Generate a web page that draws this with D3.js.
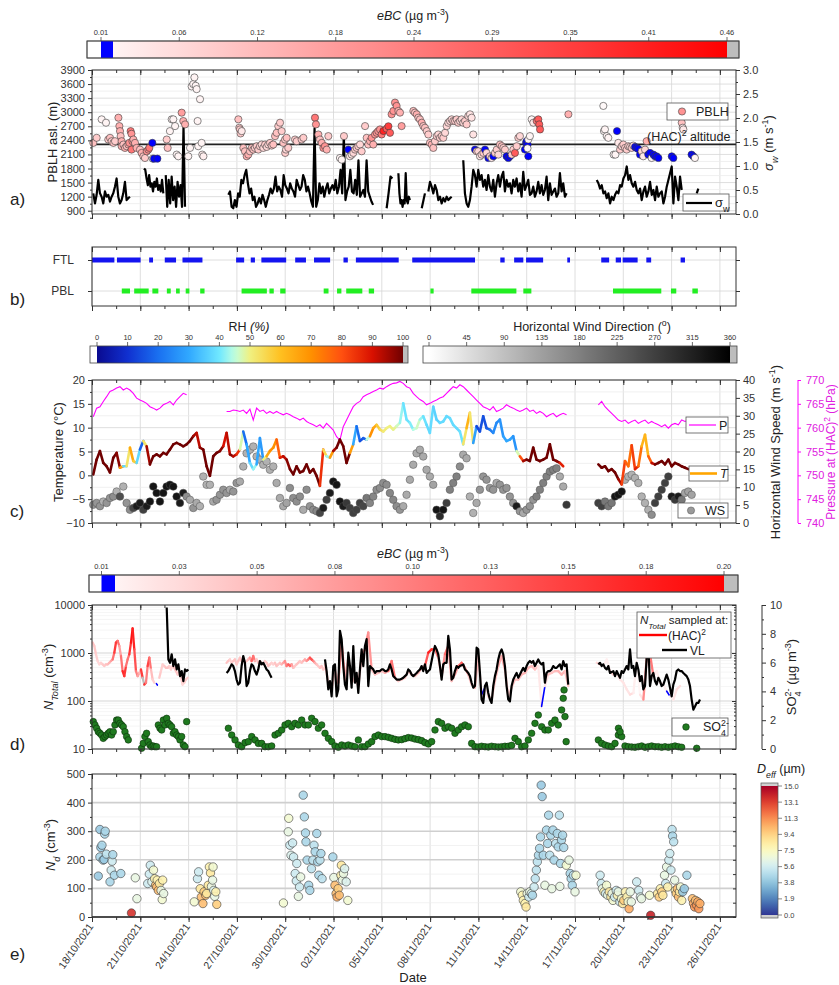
<!DOCTYPE html>
<html>
<head>
<meta charset="utf-8">
<script src="https://cdn.jsdelivr.net/npm/d3@7"></script>
<style>
  body { margin: 0; background: #fff; }
  svg { font-family: "Liberation Sans", Arial, sans-serif; }
</style>
</head>
<body>
<svg id="chart" width="839" height="985"></svg>
<script>
// ---------------- data (days counted from 18/10/2021 00:00 UTC) ----------------
var dateTickDays = [0, 3, 6, 9, 12, 15, 18, 21, 24, 27, 30, 33, 36, 39];
var minorTickDays = d3.range(0, 40.1, 1.5);

// colour-bar tick labels
var ebcTopLabels = ["0.01", "0.06", "0.12", "0.18", "0.24", "0.29", "0.35", "0.41", "0.46"];
var ebcLowLabels = ["0.01", "0.03", "0.05", "0.08", "0.10", "0.13", "0.15", "0.18", "0.20"];
var rhLabels = [0, 10, 20, 30, 40, 50, 60, 70, 80, 90, 100];
var wdLabels = [0, 45, 90, 135, 180, 225, 270, 315, 360];
var deffLabels = ["0.0", "1.9", "3.8", "5.6", "7.5", "9.4", "11.3", "13.1", "15.0"];

// axis ticks
var pblhTicks = [900, 1200, 1500, 1800, 2100, 2400, 2700, 3000, 3300, 3600, 3900];
var sigmaTicks = [0, 0.5, 1, 1.5, 2, 2.5, 3];
var tempTicks = [-10, -5, 0, 5, 10, 15, 20];
var wsTicks = [0, 5, 10, 15, 20, 25, 30, 35, 40];
var presTicks = [740, 745, 750, 755, 760, 765, 770];
var ntotTicks = [10, 100, 1000, 10000];
var so4Ticks = [0, 2, 4, 6, 8, 10];
var ndTicks = [0, 100, 200, 300, 400, 500];
var hacAltitude = 2314;

// panel a: PBLH [day, m asl, eBC]
var pblh = [
 [0.08,2346,0.12],[0.29,2454,0.1],[0.60,2848,0.03],[0.87,2776,0.03],[1.01,2418,0.1],[1.12,2454,0.12],[1.22,2382,0.1],[1.33,2346,0.12],[1.43,2382,0.1],[1.64,2883,0.15],[1.70,2704,0.15],[1.74,2597,0.15],[1.78,2490,0.12],[1.84,2382,0.15],[1.84,2275,0.15],[1.95,2311,0.12],[2.05,2239,0.15],[2.15,2275,0.12],[2.26,2311,0.15],[2.32,2346,0.2],[2.40,2597,0.25],[2.45,2540,0.2],[2.46,2203,0.25],[2.51,2382,0.2],[2.57,2418,0.15],[2.67,2346,0.15],[2.77,2239,0.15],[2.98,2203,0.12],[3.08,2132,0.15],[3.19,2060,0.12],[3.29,2024,0.1],[3.40,2167,0.2],[3.50,2203,0.2],[3.56,2239,0.25],[3.75,2346,0.005],[3.77,2010,0.02],[3.85,2010,0.005],[4.06,2010,0.005],
 [4.64,2418,0.1],[4.70,2239,0.12],[4.84,2597,0.03],[4.95,2848,0.03],[5.05,2848,0.03],[5.16,2704,0.03],[5.26,2096,0.03],[5.36,2060,0.03],[5.57,2990,0.18],[5.67,2812,0.15],[5.78,2740,0.15],[5.98,2060,0.03],[6.09,2239,0.03],[6.19,3549,0.03],[6.29,3599,0.03],[6.36,3742,0.03],[6.44,3564,0.03],[6.50,3492,0.03],[6.56,2812,0.03],[6.60,2275,0.03],[6.71,3277,0.03],[6.81,2346,0.03],[6.85,2096,0.04],[6.92,2060,0.04],
 [9.09,2848,0.12],[9.15,2669,0.1],[9.19,2633,0.1],[9.23,2547,0.1],[9.30,2597,0.05],[9.40,2239,0.12],[9.50,2167,0.12],[9.61,2060,0.15],[9.71,2096,0.15],[9.81,2167,0.12],[9.92,2239,0.12],[10.02,2203,0.12],[10.12,2239,0.1],[10.23,2275,0.1],[10.33,2203,0.1],[10.43,2275,0.1],[10.54,2311,0.08],[10.64,2239,0.08],[10.75,2311,0.1],[10.85,2260,0.08],[10.95,2311,0.08],[11.06,2346,0.1],[11.16,2289,0.1],[11.26,2311,0.12],[11.37,2490,0.12],[11.47,2561,0.12],[11.57,2704,0.1],[11.68,2776,0.1],[11.78,2597,0.1],[11.88,2346,0.12],[11.99,2418,0.1],[12.0,2132,0.1],[12.05,2203,0.08],[12.09,2454,0.12],[12.19,2239,0.1],[12.61,2418,0.1],[12.71,2382,0.1],[13.02,2418,0.1],[13.13,2454,0.1],
 [13.85,2883,0.25],[13.91,2740,0.2],[14.06,2525,0.15],[14.16,2418,0.12],[14.27,2346,0.15],[14.37,2239,0.2],[14.47,2275,0.2],[14.58,2203,0.15],[14.68,2490,0.1],[15.40,2024,0.03],[15.51,1988,0.03],[15.65,2490,0.1],[15.92,2203,0.005],[16.02,2060,0.05],[16.13,2096,0.05],[16.23,2132,0.08],[16.34,2203,0.1],[16.44,2239,0.1],[16.54,2275,0.1],[16.65,2311,0.08],[16.75,2167,0.1],[16.96,2704,0.1],[17.06,2454,0.12],[17.16,2311,0.12],[17.27,2382,0.15],[17.37,2454,0.2],[17.47,2311,0.15],[17.58,2525,0.2],[17.68,2561,0.2],[17.78,2597,0.2],[17.89,2633,0.2],[17.99,2525,0.25],[18.10,2600,0.4],[18.30,2650,0.3],[18.41,2700,0.35],[18.51,2561,0.3],[18.61,2955,0.2],[18.72,3027,0.2],[18.82,3205,0.2],[18.92,3134,0.2],[19.03,3027,0.15],[19.13,2991,0.15],[19.23,2704,0.18],
 [19.96,3027,0.12],[20.06,2991,0.12],[20.17,2955,0.15],[20.27,2883,0.12],[20.37,2848,0.12],[20.48,2776,0.15],[20.58,2704,0.12],[20.68,2669,0.12],[20.79,2597,0.1],[20.89,2525,0.1],[20.99,2346,0.12],[21.10,2311,0.15],[21.20,2239,0.12],[21.30,2382,0.1],[21.41,2490,0.1],[21.51,2525,0.08],[21.61,2454,0.1],[21.72,2490,0.1],[21.82,2454,0.1],[21.93,2561,0.08],[22.03,2704,0.08],[22.13,2776,0.08],[22.24,2812,0.08],[22.34,2848,0.08],[22.44,2812,0.1],[22.55,2812,0.1],[22.65,2848,0.1],[22.75,2776,0.1],[22.86,2812,0.08],[22.96,2848,0.08],[23.06,2776,0.08],[23.17,2812,0.1],[23.27,2740,0.1],[23.37,2919,0.08],[23.48,2955,0.06],[23.58,2883,0.06],[23.68,2525,0.06],
 [23.79,2203,0.005],[23.89,2167,0.1],[23.99,2167,0.08],[24.10,2060,0.05],[24.20,2096,0.08],[24.31,2132,0.1],[24.41,2203,0.005],[24.51,2132,0.08],[24.62,2024,0.005],[24.72,2060,0.1],[24.82,2024,0.05],[24.93,2060,0.005],[25.03,2132,0.1],[25.14,2203,0.1],[25.24,2096,0.08],[25.34,2311,0.12],[25.45,2275,0.12],[25.55,2239,0.1],[25.65,2203,0.1],[25.75,2060,0.005],[25.86,2024,0.005],[25.96,2060,0.005],[26.07,2096,0.1],[26.17,2203,0.1],[26.27,2132,0.3],[26.38,2275,0.1],[26.48,2454,0.1],[26.58,2490,0.08],[26.89,2203,0.005],[26.96,2346,0.005],[27.00,2382,0.005],[27.06,2311,0.005],[27.10,2060,0.005],[27.05,2230,0.02],[27.10,2418,0.03],[27.20,2490,0.03],[27.31,2848,0.03],[27.41,2776,0.05],[27.62,2812,0.25],[27.72,2848,0.3],[27.78,2740,0.3],[27.83,2633,0.3],[29.59,2955,0.15],
 [31.76,3134,0.02],[31.80,2597,0.03],[31.86,2633,0.03],[31.97,2490,0.03],[32.07,2454,0.03],[32.40,2096,0.03],[32.51,2096,0.03],[32.61,2597,0.005],[32.69,2346,0.05],[32.80,2203,0.1],[32.90,2275,0.08],[33.00,2311,0.1],[33.11,2239,0.1],[33.21,2203,0.1],[33.31,2275,0.1],[33.42,2260,0.08],[33.52,2239,0.1],[33.62,2289,0.08],[33.73,2260,0.005],[33.83,2239,0.005],[33.93,2217,0.005],[34.04,2096,0.005],[34.14,2167,0.08],[34.24,2060,0.05],[34.35,2203,0.08],[34.45,2382,0.15],[34.55,2096,0.005],[34.66,2132,0.005],[34.76,2024,0.03],[34.87,2096,0.005],[34.97,2060,0.005],[35.07,2060,0.005],[35.18,2024,0.005],[36.01,2060,0.005],[36.11,2024,0.005],[36.63,2776,0.12],[36.69,2669,0.05],[36.73,2633,0.05],[37.24,2096,0.005],[37.35,2060,0.005],[37.45,2024,0.03]
];

// panel a: sigma_w segments (m s-1)
var sigmaW = [
 {t0: 0.08, dt: 0.1035, v: [0.43,0.22,0.40,0.71,0.43,0.36,0.22,0.47,0.36,0.40,0.26,0.36,0.43,0.57,0.74,0.36,0.22,0.29,0.43,0.67,0.29,0.33,0.36]},
 {t0: 3.23, dt: 0.08, v: [0.95,0.92,0.74,0.60,0.81,0.57,0.64,0.47,0.67,0.57,0.74,0.50,0.60,0.47,0.71,0.43]},
 {t0: 4.58, dt: 0.092, v: [0.81,0.15,0.71,0.22,0.78,0.29,0.57,0.15,0.67,0.36,0.60,0.15,1.82,0.15]},
 {t0: 8.47, dt: 0.101, v: [0.40,0.47,0.15,0.12,0.29,0.15,0.43,0.36,0.71,0.64,0.81,0.92,0.64,0.43,0.53,0.29,0.36,0.15,0.22,0.33,0.22,0.40,0.29,0.15,0.29,0.40,0.53,0.43,0.53,0.78,0.47,0.57,0.50,0.36,0.81,0.60,0.53,0.43,0.64,0.53,0.47,0.36,0.71,0.60,0.50,0.57,0.81,0.71,0.47,0.57,0.43,0.26,0.15,1.78,0.15,0.29,0.64,0.43,0.57,0.36,0.53,0.64,0.43,0.53,0.60,0.50,0.71,0.43,0.57,0.92,0.43,1.65,0.29,0.47,0.57,0.92,0.47,0.43,0.71,0.40,1.12,0.36,0.43,0.50,0.36,1.12,0.47,0.36,0.26,0.19]},
 {t0: 18.3, dt: 0.12, v: [0.12,0.43,0.78,0.74]},
 {t0: 19.03, dt: 0.065, v: [0.85,0.43,0.22,0.29,0.15,0.29,0.22,0.85,0.29,0.22,0.36,0.29]},
 {t0: 20.48, dt: 0.2, v: [0.12,0.43]},
 {t0: 20.89, dt: 0.1036, v: [0.47,0.67,0.57,0.43,0.60,0.50,0.29,0.36,0.22,0.33,0.26,0.36,0.29,0.33,0.36]},
 {t0: 23.06, dt: 0.1035, v: [1.12,0.43,0.22,0.15,0.29,0.57,0.92,0.81,0.57,0.92,0.71,0.81,0.57,0.71,0.50,0.81,0.57,0.47,0.71,0.36,0.64,0.81,0.57,0.78,0.88,0.47,0.71,0.57,0.64,0.43,0.71,0.57,0.74,0.47,0.64,0.36,0.88,0.50,0.60,0.71,0.40,0.43,0.57,0.36,0.47,0.67,0.43,0.60,0.40,0.50,0.78,0.29,0.64,0.40,0.47,0.53,0.36,0.43,0.85,0.47,0.64,0.36,0.43]},
 {t0: 31.35, dt: 0.1035, v: [0.71,0.64,0.53,0.60,0.43,0.47,0.33,0.43,0.22,0.36,0.29,0.40,0.47,0.43,0.60,0.57,0.74,0.81,0.99,0.71,0.81,0.64,0.57,0.67,0.50,0.43,0.53,0.29,0.47,0.57,0.36,0.47,0.67,0.40,0.50,0.29,0.57,0.36,0.43,0.47,0.22,0.36,0.57,0.71,0.85,0.99,0.22,0.78,0.57,0.29,0.78,0.50]},
 {t0: 37.56, dt: 0.1, v: [0.43,0.53]}
];

// panel b: sampling periods [start day, end day]
var ftlPeriods = [[0,1.39],[1.55,3.02],[3.55,3.79],[4.52,5.22],[5.62,6.86],[8.95,9.45],[9.86,10.12],[10.52,12.06],[12.62,13.29],[13.79,14.79],[15.62,15.89],[16.39,19.05],[19.89,23.79],[25.36,25.63],[26.22,26.79],[26.96,28.02],[29.52,29.69],[31.63,32.12],[32.53,32.86],[32.96,33.89],[34.43,34.73],[36.56,36.83]];
var pblPeriods = [[1.85,2.36],[2.62,3.52],[3.75,4.12],[4.65,4.89],[5.22,5.45],[5.82,6.05],[6.72,6.99],[9.29,10.86],[11.02,11.29],[11.69,12.02],[14.39,14.69],[15.22,15.49],[15.79,16.79],[17.19,17.52],[21.02,21.22],[23.56,26.36],[26.79,27.29],[32.36,35.36],[35.96,36.29],[37.29,37.63]];

// panel c: pressure at (HAC)2 (hPa)
var pressure = [
 {t0: 0.08, dt: 0.207, v: [762.3,764.1,764.4,765.5,766.5,767.6,767.9,768.3,768.6,767.9,768.3,767.9,767.2,766.2,765.8,765.5,765.1,764.4,764.1,763.7,764.1,764.8,765.1,765.5,764.8,765.8,766.5,767.2,766.9]},
 {t0: 8.36, dt: 0.207, v: [763.4,763.4,763.7,763.6,763.4,763.7,763.0,763.9,761.6,764.1,763.4,763.7,763.0,763.4,763.0,763.4,763.0,762.7,763.0,762.7,762.3,762.0,761.6,762.0,761.3,760.9,760.6,760.2,760.6,759.9,760.9,760.2,759.5,758.1,757.4,760.2,761.6,763.0,764.4,765.1,765.5,766.5,766.9,767.2,767.6,767.9,768.3,768.1,768.6,769.0,769.3,769.4,769.7,
   769.3,768.6,768.3,767.2,766.5,765.9,765.5,764.8,765.1,765.5,765.8,766.2,766.5,767.2,767.9,768.6,768.3,769.0,768.6,767.9,767.2,766.5,765.8,765.1,764.4,764.1,763.7,764.4,763.4,763.7,764.1,764.8,764.4,764.1,763.7,763.4,763.7,764.1,763.4,763.7,763.0,763.4,763.0,762.3,762.7,763.0,762.3,762.7,763.0,762.7]},
 {t0: 31.45, dt: 0.207, v: [764.8,765.5,764.4,763.7,763.0,762.3,761.6,761.3,761.6,760.9,761.3,761.6,760.9,761.3,761.6,760.9,761.3,760.9,760.6,760.2,760.6,759.9,760.6,760.9,760.6,761.6,761.3,761.6,761.6]}
];

// panel c: temperature (degC) with RH (%)
var temperature = [
 {t0: 0.08, dt: 0.207,
  v: [0.2,3.3,5.1,2.6,1.9,0.6,3.7,4.7,1.6,1.9,1.9,5.8,3.0,2.6,5.4,7.2,6.1,2.3,4.0,4.4,4.0,4.7,4.4,5.4,6.5,6.8,6.5,6.1,6.5,7.2,8.2,8.9,5.8,5.4,1.9,-0.1,4.0,4.7,5.1,6.1,8.9,4.4,4.0,4.4,5.4,9.2,6.5,2.6,1.3,2.3,7.8,3.3,4.0,5.1,5.8,7.5,3.7,4.0,3.3,1.3,0.2,1.9,0.6,0.9,2.3,0.6,1.3,-0.1,-2.2,5.4,4.0,3.7,5.1,5.8,7.5,6.1,2.6,4.7,6.5,10.3,7.2,7.8,7.5,8.2,9.9,10.6,9.6,9.2,9.9,10.3,9.6,10.3,11.0,
      15.1,11.7,11.0,9.6,9.9,11.7,12.4,10.6,8.9,14.4,11.7,11.0,11.3,12.4,12.0,10.6,9.9,9.2,6.5,9.9,13.1,6.8,10.3,9.2,12.4,9.9,9.6,8.9,11.0,11.7,8.2,7.2,7.5,8.2,5.1,4.0,3.0,3.3,3.0,5.8,3.3,3.0,3.3,3.7,6.5,3.3,3.0,2.6,1.9],
  rh: [100,100,100,100,100,100,100,100,95,40,35,70,60,55,20,15,90,100,100,100,100,100,100,100,100,100,100,100,100,100,100,90,95,100,100,100,100,100,100,95,85,100,95,90,80,15,25,35,40,45,15,40,60,70,70,70,85,90,95,100,100,100,100,100,100,100,100,100,100,70,40,45,90,100,100,100,100,100,35,25,15,15,20,70,70,60,55,52,50,50,50,48,45,40,
      38,40,42,48,45,40,38,38,38,35,38,38,38,38,38,38,38,40,65,60,45,12,15,15,15,20,25,25,25,28,30,30,28,25,70,90,100,100,100,100,100,100,100,100,100,100,95,80,70]},
 {t0: 31.45, dt: 0.207,
  v: [2.3,1.6,1.9,0.9,1.3,0.6,-0.8,-1.9,3.0,1.9,6.3,1.3,1.9,6.1,8.5,4.0,2.6,2.3,2.6,3.0,2.3,3.3,1.9,2.6,2.3,1.9,1.6,1.3],
  rh: [100,100,100,100,100,100,100,90,75,80,70,95,80,70,55,70,85,100,100,100,100,100,100,100,100,100,100,100]}
];

// panel c: horizontal wind speed (m s-1) with direction (deg)
var windSpeed = [
 {t0: 0.08, dt: 0.207,
  v: [5.1,5.6,4.7,6.0,5.6,7.0,7.4,8.8,7.4,10.2,5.6,3.7,4.2,4.7,5.6,3.7,4.7,6.0,10.2,8.4,6.0,8.4,10.2,10.7,10.2,7.4,5.6,8.4,7.4,6.5,4.2,5.6,4.7,13.0,10.7,10.7,6.0,6.5,7.9,9.3,8.4,9.3,8.8,11.2,11.6,15.8,19.5,20.5,21.4,18.6,17.7,16.3,17.2,14.9,15.8,11.2,7.0,4.7,5.6,9.8,7.0,6.0,7.4,3.7,9.3,4.7,3.7,3.3,2.8,4.2,6.5,8.4,11.6,10.7,6.0,4.7,5.6,4.2,2.8,3.7,5.6,4.7,7.0,5.6,7.4,9.3,9.8,11.2,10.7,8.4,6.5,4.7,3.7,
      4.7,7.9,12.1,16.3,19.5,20.5,18.6,14.9,13.0,10.7,3.7,1.9,3.7,5.6,9.3,11.2,13.0,15.8,19.1,18.1,7.4,2.8,5.6,9.3,13.0,12.1,9.8,9.3,11.2,10.7,9.3,9.8,7.4,5.6,4.7,3.3,2.8,3.7,4.7,6.5,7.4,9.3,11.2,13.0,14.4,14.9,15.3,13.0,10.2,5.1],
  dir: [150,150,150,110,150,150,160,110,250,110,150,160,260,320,320,270,320,330,330,330,330,330,330,330,330,330,320,320,160,120,150,120,110,110,110,110,120,150,150,150,150,120,150,150,120,110,110,110,110,110,110,110,110,110,110,120,120,120,130,160,160,160,160,120,160,150,160,170,260,320,270,320,330,330,330,320,280,270,270,270,270,260,190,170,170,160,160,160,160,170,170,160,150,
      120,120,120,120,120,120,120,120,120,130,330,300,330,270,180,180,180,160,120,120,110,110,120,150,150,150,150,150,120,150,150,150,150,150,320,150,120,150,150,150,180,180,180,180,180,180,180,120,120,280]},
 {t0: 31.45, dt: 0.207,
  v: [5.6,4.7,6.0,4.7,5.6,7.4,7.9,8.8,12.1,13.0,13.5,12.6,11.2,7.4,5.6,3.7,2.3,5.6,7.4,9.3,11.2,13.0,7.4,6.5,7.4,6.5,8.4,8.8,7.9],
  dir: [270,270,190,190,190,330,330,330,110,110,110,110,110,110,110,110,160,270,270,270,270,270,320,280,320,190,130,130,130]}
];

// panel d: N_Total at (HAC)2 (cm-3) with eBC (ug m-3)
var nHac = [
 {t0: 0.04, dt: 0.1035,
  v: [1650,1400,940,680,580,625,580,535,580,580,625,680,735,1015,1650,1790,1400,865,420,330,535,735,940,1650,3240,1190,420,330,385,455,305,220,240,535,800,455,280,240],
  c: [0.06,0.05,0.05,0.04,0.04,0.04,0.05,0.05,0.05,0.06,0.06,0.07,0.09,0.14,0.17,0.14,0.09,0.07,0.16,0.18,0.14,0.09,0.14,0.18,0.19,0.16,0.12,0.09,0.07,0.06,0.25,0.25,0.07,0.14,0.16,0.07,0.05,0.04]},
 {t0: 4.0, dt: 0.06, v: [230,215], c: [0.005,0.005]},
 {t0: 4.18, dt: 0.1035,
  v: [305,420,580,535,490,490,535,455,535,490,420,355,385,305,220,240,280,305],
  c: [0.05,0.05,0.04,0.05,0.05,0.06,0.05,0.04,0.05,0.05,0.06,0.05,0.04,0.05,0.04,0.04,0.05,0.05]},
 {t0: 8.36, dt: 0.1035,
  v: [625,680,735,625,680,735,580,680,800,680,735,625,680,735,800,680,865,680,735,625,680,625,580,680,625,535,580,625,580,625,535,580,625,580,625,680,535,580,535,580,490,535,580,625,680,625,680,735,680,735,800,735,680,625,580,535,490,535,455,490],
  c: [0.05,0.06,0.05,0.04,0.05,0.06,0.05,0.05,0.06,0.05,0.05,0.04,0.05,0.06,0.07,0.1,0.15,0.08,0.05,0.05,0.06,0.05,0.04,0.05,0.05,0.06,0.05,0.05,0.04,0.05,0.06,0.05,0.05,0.06,0.07,0.09,0.1,0.12,0.14,0.1,0.06,0.05,0.05,0.06,0.05,0.05,0.06,0.07,0.08,0.1,0.12,0.16,0.12,0.08,0.06,0.05,0.05,0.06,0.05,0.05]},
 {t0: 14.47, dt: 0.207,
  v: [580,240,175,455,240,1650,280,800,240,305,205,865,1190,2670,455,355,385,420,385,420,680,305,260,
      280,305,420,355,330,385,490,535,1015,1190,1190,800,330,940,1400,260,355,535,625,490,355,220,190,865,136,190,125,107,260,535,865,455,125,190,280,280,355,385,490,535,455,535,77,205,355,385,420,420,355,420,205],
  c: [0.06,0.05,0.05,0.06,0.05,0.15,0.06,0.08,0.05,0.06,0.05,0.08,0.1,0.12,0.06,0.05,0.06,0.05,0.06,0.08,0.17,0.06,0.05,
      0.05,0.05,0.06,0.05,0.05,0.06,0.08,0.1,0.17,0.18,0.15,0.08,0.05,0.14,0.1,0.05,0.06,0.1,0.14,0.12,0.06,0.05,0.05,0.08,0.005,0.005,0.05,0.05,0.06,0.06,0.08,0.06,0.05,0.05,0.06,0.06,0.06,0.07,0.06,0.06,0.06,0.05,0.005,0.005,0.06,0.05,0.06,0.06,0.07,0.06,0.05]},
 {t0: 31.35, dt: 0.207,
  v: [625,580,535,735,420,355,385,280,240,175,136,147,680,136,107,800,940,330,420,240,220,160,125,107,175,205],
  c: [0.04,0.04,0.04,0.005,0.04,0.05,0.04,0.03,0.03,0.03,0.03,0.04,0.005,0.03,0.03,0.16,0.17,0.05,0.005,0.04,0.04,0.005,0.005,0.03,0.03,0.04]}
];

// panel d: N_Total at VL (cm-3)
var nVl = [
 {t0: 4.64, dt: 0.1035, v: [8900,735,625,940,535,735,455,580,330,420,260,455,420,455]},
 {t0: 8.36, dt: 0.1035, v: [385,420,490,580,535,420,280,220,240,535,865,625,205,240,420,580,535,420,355,455,680,580,625,535,455,420,355,305]},
 {t0: 14.47, dt: 0.1035, v: [735,420,175,260,125,535,580,125,175,2900,1940,535,220,175,1015,535,190,1400,240,385,147,455,1190,535,1400,1940,205,535,490,455,385,420,420,420,455,455,420,420,455,580,455,330,305,280,280,
   280,290,305,330,355,455,420,355,330,355,385,420,455,535,420,580,385,420,455,680,1015,1400,1190,940,535,280,580,625,625,2280,1190,280,305,420,535,490,535,555,580,455,420,385,330,240,190,205,1290,1190,385,107,91,205,240,147,107,91,205,330,455,735,1015,1190,940,535,205,107,98,205,280,330,385,305,355,420,490,420,535,625,680,625,680,535,625,735,625,580,625,240,385,420,420,455,535,490,490,535,580,455,680,535,580,220]},
 {t0: 31.45, dt: 0.1035, v: [580,625,535,580,490,455,535,385,400,420,330,420,355,305,420,385,455,535,455,1190,490,535,330,625,455,260,330,175,205,800,1400,205,330,385,260,220,305,260,205,220,280,355,280,190,125,220,280,420,455,420,420,385,355,330,280,205,107,66,77,91,91,107]}
];

// panel d: sulphate (ug m-3)
var so4 = [
 {t0: 0.08, dt: 0.1035, v: [1.90,1.67,1.44,1.20,1.09,0.97,0.74,0.86,0.97,1.09,1.20,0.97,1.20,1.67,2.01,2.01,1.78,1.67,1.55,1.20,0.86,0.63]},
 {t0: 3.08, dt: 0.1035, v: [0.05,0.39,0.86,1.09,0.51,0.28,0.16,0.21,0.16,0.16]},
 {t0: 4.12, dt: 0.1035, v: [1.67,1.44,1.32,2.01,1.67,2.13,1.78,1.67,1.55,1.09,1.20,0.97,0.86,0.63,0.86,0.28,0.16,1.90]},
 {t0: 8.47, dt: 0.207, v: [1.44,0.97,0.63,0.28,0.16,0.44,0.51,0.86,0.63,0.39,0.39,0.16,0.16,0.21,0.97,1.09,1.32,1.67,1.78,1.55,1.78,1.67,2.01,1.67,1.67,2.13,1.90,1.44,1.67,1.09,0.74,0.51,0.21,0.12,0.28,0.21,0.28,0.21,0.16,0.63,0.16,0.16,0.35,0.51,0.86,0.97,0.86,0.86,0.81,0.74,0.67,0.63,
   0.65,0.72,0.79,0.76,0.69,0.65,0.58,0.44,0.35,0.51,1.32,1.90,1.78,1.44,1.55,1.44,1.09,1.32,1.55,1.67,1.55,0.39,0.16,0.14,0.19,0.16,0.14,0.19,0.16,0.14,0.16,0.19,0.19,0.25,0.74,0.51,0.16,0.21,0.63,1.09,1.78,2.36,1.55,1.32,1.32,1.78,2.01,1.67,2.71,2.25]},
 {t0: 29.27, dt: 0.05, v: [3.52,4.10]},
 {t0: 29.45, dt: 0.1, v: [0.51]},
 {t0: 31.45, dt: 0.207, v: [0.63,0.39,0.28,0.21,0.16,0.39,0.97,0.86,0.21,0.16,0.14,0.12,0.16,0.21,0.12,0.16,0.21,0.16,0.16,0.12,0.16,0.12,0.16,0.21,0.16,0.12]},
 {t0: 32.7, dt: 0.1, v: [1.44,1.20]},
 {t0: 37.56, dt: 0.1, v: [0.05]}
];

// panel e: droplet number [day, Nd (cm-3), Deff (um)]
var droplets = [
 [0.39,143,4],[0.49,210,4.5],[0.55,243,4],[0.49,306,4],[0.62,251,4.5],[0.69,199,4.5],[0.75,201,4],[0.79,290,4.5],[0.82,300,4.5],[0.89,220,5],[1.12,123,4.5],[1.19,164,5.5],[1.25,195,5.5],[1.29,218,4.5],[1.39,146,4.5],[1.79,152,4.5],[2.45,14,13.5],[2.69,137,6.5],[2.79,64,6.5],
 [3.46,117,5.5],[3.56,150,5.5],[3.62,181,5.5],[3.72,123,6],[3.82,164,7],[3.89,134,8],[3.95,111,10],[4.02,105,10],[4.05,129,8],[4.12,93,10],[4.19,117,8.5],[4.29,93,6.5],[4.36,61,7],[4.45,82,6.5],[4.39,129,8],
 [6.35,53,7],[6.55,134,5.5],[6.62,158,5.5],[6.72,99,8.5],[6.79,70,10],[6.89,47,10],[6.96,88,9.5],[7.06,76,10],[7.12,82,8.5],[7.22,111,8.5],[7.29,175,8],[7.36,154,8.5],[7.42,107,6.5],[7.52,175,7],[7.56,93,6],[7.62,72,6.5],[7.69,88,8],[7.75,44,9.5],[7.49,129,6.5],
 [11.89,49,7],[12.19,298,6.5],[12.22,345,7],[12.29,251,5.5],[12.36,216,6],[12.46,259,5.5],[12.52,210,5.5],[12.62,152,5.5],[12.69,126,5.5],[12.72,187,5.5],[12.82,72,6.5],[12.89,105,5.5],[12.96,140,6.5],[13.12,426,4.5],[13.19,350,4.5],[13.26,294,4.5],[13.29,263,4.5],[13.36,199,4.5],[13.46,111,4.5],[13.53,93,4.5],[13.63,169,5],[13.72,199,5],[13.79,251,5],[13.86,228,4.5],[13.96,292,4.5],[14.02,193,4.5],[14.09,146,4.5],[14.16,199,5],[14.22,222,4.5],[14.29,134,5],
 [14.96,210,4.5],[15.02,138,6.5],[15.09,111,10],[15.16,82,10],[15.22,70,10.5],[15.29,99,9.5],[15.36,76,10],[15.46,146,8],[15.49,181,8.5],[15.56,129,6.5],[15.62,152,6.5],[15.69,169,6],[15.79,123,6],[15.89,58,7],
 [26.63,88,7],[26.73,76,8],[26.79,58,8],[26.89,47,8],[26.96,35,8.5],[27.03,82,6.5],[27.13,70,5.5],[27.19,88,6.5],[27.29,82,6],[27.36,76,4.5],[27.46,105,5.5],[27.53,134,5],[27.60,164,5],[27.66,193,5],[27.73,216,4.5],[27.80,240,4.5],[27.86,280,4.5],[27.90,461,4],[27.96,421,4],[28.03,216,4.5],[28.13,111,6.5],[28.23,304,4.5],[28.30,257,4.5],[28.36,356,4.5],[28.43,216,5],[28.50,286,4.5],[28.56,99,6.5],[28.63,304,4.5],[28.70,199,4.5],[28.80,257,5],[28.90,292,4.5],[28.96,245,4.5],[29.03,356,5],[29.10,187,4.5],[29.16,269,4.5],[29.23,286,4.5],[29.30,243,4.5],[29.06,107,6.5],[29.46,181,7],[29.63,199,6.5],[29.70,152,4.5],[29.76,134,4.5],[29.83,111,4.5],[29.90,146,5],[30.00,88,6.5],[30.06,146,7],
 [31.56,146,5.5],[31.63,117,5.5],[31.70,99,6.5],[31.80,88,8],[31.90,82,5.5],[31.96,111,7],[32.03,76,6.5],[32.13,88,8.5],[32.23,70,8.5],[32.30,82,6.5],[32.36,58,7],[32.46,70,5.5],[32.56,93,5.5],[32.63,76,8],[32.69,88,6.5],[32.79,53,5.5],[32.89,64,7],[32.96,47,8.5],[33.03,58,9.5],[33.13,88,8],[33.23,70,8],[33.30,53,7],[33.36,29,10.5],[33.43,88,6.5],[33.50,53,6.5],
 [33.83,123,5.5],[33.96,93,5.5],[34.06,70,6],[34.13,64,6.5],[34.63,76,7],[34.70,6,14],[35.13,82,8.5],[35.23,70,9.5],[35.30,99,8],[35.39,88,9.5],[35.46,76,8.5],[35.56,146,6.5],[35.63,117,5.5],[35.69,175,6.5],[35.76,105,8],[35.83,199,5.5],[35.89,222,5.5],[35.96,164,5.5],[36.03,306,5],[36.06,283,4.5],[36.13,263,5],[36.19,129,6.5],[36.23,93,8],[36.29,82,9.5],[36.36,99,10],[36.43,70,10],[36.49,88,8.5],[36.56,105,7],[36.63,58,8],[36.69,88,4],[36.79,99,4],[36.95,146,4.5],
 [37.29,64,10],[37.36,47,10.5],[37.43,35,11],[37.49,58,10],[37.56,41,11],[37.63,53,10.5],[37.69,29,11],[37.76,47,10.5]
];

// ---------------- drawing ----------------
var svg = d3.select("#chart");
var FONT = '"Liberation Sans", Arial, sans-serif';
var X0 = 92, X1 = 736;
var day0 = Date.UTC(2021, 9, 18);
var T = function(d) { return new Date(day0 + d * 864e5); };
var x = d3.scaleUtc().domain([T(0), T(40)]).range([X0, X1]);
var xd = function(d) { return x(T(d)); };
var defs = svg.append("defs");

var expand = function(s) {
  return s.v.map(function(v, i) {
    return {d: s.t0 + i * s.dt, v: v, c: s.c ? s.c[i] : (s.rh ? s.rh[i] : (s.dir ? s.dir[i] : null))};
  });
};

// colour maps
var ebcColor = function(v, max) {
  if (v < 0.01) return "#0000ff";
  if (v > max) return "#bdbdbd";
  return d3.interpolateRgb("#ffffff", "#ff0000")((v - 0.01) / (max - 0.01));
};
var rhScale = d3.scaleLinear()
  .domain([0, 10, 20, 30, 40, 45, 50, 60, 70, 80, 90, 100])
  .range(["#0a0a90", "#1030d0", "#1a70f0", "#30a8ff", "#70e8ff", "#c0ffe0", "#f0f080", "#ffc020", "#ff9000", "#ff5010", "#d81000", "#700000"])
  .clamp(true);
var wdColor = function(v) { return d3.interpolateRgb("#ffffff", "#000000")(v / 360); };
var deffColor = function(v) { return d3.interpolateRdYlBu(1 - Math.min(1, v / 15)); };

function gradient(id, fn, vertical) {
  var g = defs.append("linearGradient").attr("id", id);
  if (vertical) g.attr("x1", 0).attr("y1", 1).attr("x2", 0).attr("y2", 0);
  d3.range(0, 1.0001, 0.02).forEach(function(t) {
    g.append("stop").attr("offset", t).attr("stop-color", fn(t));
  });
}
gradient("gEbc", function(t) { return d3.interpolateRgb("#fff4f4", "#ff0000")(t); });
gradient("gRh", function(t) { return rhScale(t * 100); });
gradient("gWd", function(t) { return wdColor(t * 360); });
gradient("gDeff", function(t) { return deffColor(t * 15); }, true);

function styleAxis(g, fs) {
  g.attr("font-family", FONT).attr("font-size", fs || 11);
  g.select(".domain").remove();
  g.selectAll(".tick line").attr("stroke", "#333");
  g.selectAll(".tick text").attr("fill", "#333");
  return g;
}
function vgrid(top, bottom) {
  svg.append("g").selectAll("line").data(dateTickDays).join("line")
    .attr("x1", xd).attr("x2", xd).attr("y1", top).attr("y2", bottom)
    .attr("stroke", "#d6d6d6").attr("stroke-width", 0.8);
}
function hgrid(scale, vals, color, w) {
  svg.append("g").selectAll("line").data(vals).join("line")
    .attr("x1", X0).attr("x2", X1).attr("y1", scale).attr("y2", scale)
    .attr("stroke", color).attr("stroke-width", w);
}
function frame(top, bottom, labels) {
  [[bottom, 3, minorTickDays], [top, 3, minorTickDays], [top, 5, dateTickDays]].forEach(function(a) {
    styleAxis(svg.append("g").attr("transform", "translate(0," + a[0] + ")")
      .call(d3.axisBottom(x).tickValues(a[2].map(T)).tickSize(a[1]).tickFormat("")));
  });
  var gb = styleAxis(svg.append("g").attr("transform", "translate(0," + bottom + ")")
    .call(d3.axisBottom(x).tickValues(dateTickDays.map(T)).tickSize(5)
      .tickFormat(labels ? d3.utcFormat("%d/%m/%Y") : "")), 10.5);
  if (labels) {
    gb.selectAll(".tick text").attr("text-anchor", "end").attr("x", -7).attr("y", 3)
      .attr("dy", "0.35em").attr("transform", "rotate(-55)");
  }
  svg.append("rect").attr("x", X0).attr("y", top).attr("width", X1 - X0).attr("height", bottom - top)
    .attr("fill", "none").attr("stroke", "#333").attr("stroke-width", 1);
}
function label(txt, xx, yy, fs, opts) {
  var t = svg.append("text").attr("x", xx).attr("y", yy).attr("font-size", fs).attr("fill", (opts && opts.fill) || "#222");
  if (txt) t.text(txt);
  if (opts && opts.anchor) t.attr("text-anchor", opts.anchor);
  if (opts && opts.rot) t.attr("transform", "rotate(" + opts.rot + "," + xx + "," + yy + ")");
  return t;
}
function span(t, s, o) {
  var ts = t.append("tspan").text(s);
  if (o && o.italic) ts.attr("font-style", "italic");
  if (o && o.shift) ts.attr("baseline-shift", o.shift).attr("font-size", "70%");
  if (o && o.dx) ts.attr("dx", o.dx);
  return t;
}
// "SO4 2-" with the charge stacked above the index
function so4Text(t, fs) {
  span(t, "SO"); span(t, "4", {shift: "sub"});
  span(t, "2-", {shift: "super", dx: -0.39 * fs});
  return t;
}
function hbar(x0, x1, y, h, gid, capL, capR, labels, lx0, lx1) {
  var lpos = d3.scaleLinear().domain([0, labels.length - 1]).range([lx0, lx1]);
  svg.append("rect").attr("x", x0).attr("y", y).attr("width", lx0 - x0).attr("height", h).attr("fill", "#fff");
  svg.append("rect").attr("x", capL).attr("y", y).attr("width", lx1 - capL).attr("height", h).attr("fill", "url(#" + gid + ")");
  svg.append("rect").attr("x", lx1).attr("y", y).attr("width", x1 - lx1).attr("height", h).attr("fill", "#bdbdbd");
  svg.append("rect").attr("x", x0).attr("y", y).attr("width", x1 - x0).attr("height", h)
    .attr("fill", "none").attr("stroke", "#444").attr("stroke-width", 0.8);
  var g = svg.append("g");
  g.selectAll("line").data(labels).join("line")
    .attr("x1", function(d, i) { return lpos(i); }).attr("x2", function(d, i) { return lpos(i); })
    .attr("y1", y - 4).attr("y2", y).attr("stroke", "#444").attr("stroke-width", 0.8);
  g.selectAll("text").data(labels).join("text")
    .attr("x", function(d, i) { return lpos(i); }).attr("y", y - 6)
    .attr("text-anchor", "middle").attr("font-size", 7.5).attr("fill", "#333").text(function(d) { return d; });
  return g;
}

// ---- eBC colour bar (top) ----
hbar(87, 739, 41, 17, "gEbc", 113, 727, ebcTopLabels, 101, 727);
svg.append("rect").attr("x", 101).attr("y", 41).attr("width", 12).attr("height", 17).attr("fill", "#0000ff");
svg.append("rect").attr("x", 87).attr("y", 41).attr("width", 652).attr("height", 17).attr("fill", "none").attr("stroke", "#444").attr("stroke-width", 0.8);
var tEbc1 = label("", 413, 20, 12.5, {anchor: "middle"});
span(tEbc1, "eBC", {italic: true}); span(tEbc1, " (\u00b5g m"); span(tEbc1, "-3", {shift: "super"}); span(tEbc1, ")");

// ---- panel a ----
var yA = d3.scaleLinear().domain([830, 3900]).range([214, 70]);
var yS = d3.scaleLinear().domain([0, 3]).range([214, 70]);
vgrid(70, 214);
hgrid(yA, pblhTicks.map(function(d) { return d + 150; }).filter(function(d) { return d < 3900; }), "#ececec", 0.8);
hgrid(yA, pblhTicks, "#d6d6d6", 0.8);

svg.append("line").attr("x1", X0).attr("x2", X1).attr("y1", yA(hacAltitude)).attr("y2", yA(hacAltitude))
  .attr("stroke", "#222").attr("stroke-width", 1.6);

var sigLine = d3.line().x(function(p) { return xd(p.d); }).y(function(p) { return yS(p.v); });
svg.append("g").selectAll("path").data(sigmaW).join("path")
  .attr("d", function(s) { return sigLine(expand(s)); })
  .attr("fill", "none").attr("stroke", "#000").attr("stroke-width", 2.2).attr("stroke-linejoin", "round");

svg.append("g").selectAll("circle").data(pblh).join("circle")
  .attr("cx", function(d) { return xd(d[0]); }).attr("cy", function(d) { return yA(d[1]); }).attr("r", 3.6)
  .attr("fill", function(d) { return ebcColor(d[2], 0.46); })
  .attr("stroke", "#3a3a3a").attr("stroke-width", 0.6);

frame(70, 214);
styleAxis(svg.append("g").attr("transform", "translate(" + X0 + ",0)")
  .call(d3.axisLeft(yA).tickValues(pblhTicks).tickSize(4).tickPadding(3).tickFormat(d3.format("d"))));
styleAxis(svg.append("g").attr("transform", "translate(" + X0 + ",0)")
  .call(d3.axisLeft(yA).tickValues(pblhTicks.map(function(d) { return d - 150; })).tickSize(2).tickFormat("")));
styleAxis(svg.append("g").attr("transform", "translate(" + X1 + ",0)")
  .call(d3.axisRight(yS).tickValues(sigmaTicks).tickSize(4).tickPadding(3).tickFormat(d3.format(".1f"))));
styleAxis(svg.append("g").attr("transform", "translate(" + X1 + ",0)")
  .call(d3.axisRight(yS).tickValues(d3.range(0.25, 3, 0.5)).tickSize(2).tickFormat("")));

label("PBLH asl. (m)", 57, 142, 13, {anchor: "middle", rot: -90});
var tSig = label("", 773, 143, 13, {anchor: "middle", rot: -90});
span(tSig, "\u03c3", {italic: true}); span(tSig, "w", {italic: true, shift: "sub"}); span(tSig, " (m s"); span(tSig, "-1", {shift: "super"}); span(tSig, ")");
label("a)", 10, 205, 17);

// legends a
svg.append("rect").attr("x", 667).attr("y", 103).attr("width", 61).attr("height", 17).attr("fill", "#fff").attr("stroke", "#555").attr("stroke-width", 0.8);
svg.append("circle").attr("cx", 682).attr("cy", 111.5).attr("r", 3.6).attr("fill", ebcColor(0.2, 0.46)).attr("stroke", "#3a3a3a").attr("stroke-width", 0.6);
label("PBLH", 696, 116, 12.5);
var tHac = label("", 647, 141, 12.5);
span(tHac, "(HAC)"); span(tHac, "2", {shift: "super"}); span(tHac, " altitude");
svg.append("rect").attr("x", 683).attr("y", 194).attr("width", 46).attr("height", 17).attr("fill", "#fff").attr("stroke", "#555").attr("stroke-width", 0.8);
svg.append("line").attr("x1", 686).attr("x2", 712).attr("y1", 203).attr("y2", 203).attr("stroke", "#000").attr("stroke-width", 2.2);
var tSl = label("", 715, 207, 13);
span(tSl, "\u03c3"); span(tSl, "w", {shift: "sub"});

// ---- panel b ----
var yB = d3.scalePoint().domain(["FTL", "PBL"]).range([260, 291]);
vgrid(247, 306);
hgrid(function(d) { return yB(d); }, ["FTL", "PBL"], "#d6d6d6", 0.8);
svg.append("g").selectAll("rect").data(ftlPeriods).join("rect")
  .attr("x", function(d) { return xd(d[0]); }).attr("width", function(d) { return Math.max(2.5, xd(d[1]) - xd(d[0])); })
  .attr("y", yB("FTL") - 2.5).attr("height", 5).attr("fill", "#1414f0");
svg.append("g").selectAll("rect").data(pblPeriods).join("rect")
  .attr("x", function(d) { return xd(d[0]); }).attr("width", function(d) { return Math.max(2.5, xd(d[1]) - xd(d[0])); })
  .attr("y", yB("PBL") - 2.5).attr("height", 5).attr("fill", "#22ee22");
frame(247, 306);
styleAxis(svg.append("g").attr("transform", "translate(" + X0 + ",0)")
  .call(d3.axisLeft(yB).tickSize(4).tickPadding(14)), 12);
styleAxis(svg.append("g").attr("transform", "translate(" + X1 + ",0)")
  .call(d3.axisRight(yB).tickSize(4).tickFormat("")));
label("b)", 10, 305, 17);

// ---- colour bars RH and wind direction ----
hbar(90, 408, 346, 17, "gRh", 97, 403, rhLabels, 97, 403);
var tRh = label("", 249, 331, 12.5, {anchor: "middle"});
span(tRh, "RH "); span(tRh, "(%)", {italic: true});
hbar(423, 737, 346, 17, "gWd", 429, 730, wdLabels, 429, 730);
var tWd = label("", 592, 331, 12.5, {anchor: "middle"});
span(tWd, "Horizontal Wind Direction ("); span(tWd, "o", {shift: "super"}); span(tWd, ")");

// ---- panel c ----
var yT = d3.scaleLinear().domain([-10, 20]).range([523, 380]);
var yW = d3.scaleLinear().domain([0, 40]).range([523, 380]);
var yP = d3.scaleLinear().domain([740, 770]).range([523, 380]);
vgrid(380, 523);
hgrid(yT, [-7.5, -2.5, 2.5, 7.5, 12.5, 17.5], "#ececec", 0.8);
hgrid(yT, tempTicks, "#d6d6d6", 0.8);

var pLine = d3.line().x(function(p) { return xd(p.d); }).y(function(p) { return yP(p.v); });
svg.append("g").selectAll("path").data(pressure).join("path")
  .attr("d", function(s) { return pLine(expand(s)); })
  .attr("fill", "none").attr("stroke", "#ff00ff").attr("stroke-width", 1.1);

var wsPts = [];
windSpeed.forEach(function(s) { wsPts = wsPts.concat(expand(s)); });
svg.append("g").selectAll("circle").data(wsPts).join("circle")
  .attr("cx", function(p) { return xd(p.d); }).attr("cy", function(p) { return yW(p.v); }).attr("r", 3.8)
  .attr("fill", function(p) { return wdColor(p.c); })
  .attr("stroke", "#505050").attr("stroke-width", 0.5);

var tg = svg.append("g");
temperature.forEach(function(s) {
  var pts = expand(s);
  tg.append("g").selectAll("line").data(pts.slice(1)).join("line")
    .attr("x1", function(p, i) { return xd(pts[i].d); }).attr("y1", function(p, i) { return yT(pts[i].v); })
    .attr("x2", function(p) { return xd(p.d); }).attr("y2", function(p) { return yT(p.v); })
    .attr("stroke", function(p, i) { return rhScale((p.c + pts[i].c) / 2); })
    .attr("stroke-width", 2.6).attr("stroke-linecap", "round");
});

frame(380, 523);
styleAxis(svg.append("g").attr("transform", "translate(" + X0 + ",0)")
  .call(d3.axisLeft(yT).tickValues(tempTicks).tickSize(4).tickPadding(3).tickFormat(d3.format("d"))));
styleAxis(svg.append("g").attr("transform", "translate(" + X0 + ",0)")
  .call(d3.axisLeft(yT).tickValues([-7.5, -2.5, 2.5, 7.5, 12.5, 17.5]).tickSize(2).tickFormat("")));
styleAxis(svg.append("g").attr("transform", "translate(" + X1 + ",0)")
  .call(d3.axisRight(yW).tickValues(wsTicks).tickSize(4).tickPadding(3)));
var gp = styleAxis(svg.append("g").attr("transform", "translate(798,0)")
  .call(d3.axisRight(yP).tickValues(presTicks).tickSize(3).tickPadding(5)));
gp.selectAll(".tick line").attr("stroke", "#ff00ff");
gp.selectAll(".tick text").attr("fill", "#e020e0");
svg.append("line").attr("x1", 798).attr("x2", 798).attr("y1", 380).attr("y2", 523).attr("stroke", "#ff00ff").attr("stroke-width", 1);

label("Temperature (\u00b0C)", 63, 452, 13, {anchor: "middle", rot: -90});
var tWs = label("", 780, 452, 13, {anchor: "middle", rot: -90});
span(tWs, "Horizontal Wind Speed (m s"); span(tWs, "-1", {shift: "super"}); span(tWs, ")");
var tPr = label("", 835, 452, 12, {anchor: "middle", rot: -90, fill: "#e020e0"});
span(tPr, "Pressure at (HAC)"); span(tPr, "2", {shift: "super"}); span(tPr, " (hPa)");
label("c)", 10, 517, 17);

// legends c
svg.append("rect").attr("x", 686).attr("y", 417).attr("width", 42).attr("height", 16).attr("fill", "#fff").attr("stroke", "#555").attr("stroke-width", 0.8);
svg.append("line").attr("x1", 689).attr("x2", 716).attr("y1", 425).attr("y2", 425).attr("stroke", "#ff00ff").attr("stroke-width", 1.2);
label("P", 719, 430, 12.5);
svg.append("rect").attr("x", 689).attr("y", 466).attr("width", 39).attr("height", 15).attr("fill", "#fff").attr("stroke", "#555").attr("stroke-width", 0.8);
svg.append("line").attr("x1", 690).attr("x2", 717).attr("y1", 473.5).attr("y2", 473.5).attr("stroke", "#ffa500").attr("stroke-width", 2.6);
var tTl = label("", 720, 478, 12.5); span(tTl, "T", {italic: true});
svg.append("rect").attr("x", 678).attr("y", 503).attr("width", 50).attr("height", 15).attr("fill", "#fff").attr("stroke", "#555").attr("stroke-width", 0.8);
svg.append("circle").attr("cx", 691).attr("cy", 510.5).attr("r", 3.6).attr("fill", "#9a9a9a").attr("stroke", "#505050").attr("stroke-width", 0.5);
label("WS", 705, 515, 12.5);

// ---- eBC colour bar (panel d) ----
hbar(89, 738, 575, 17, "gEbc", 115, 724, ebcLowLabels, 101.5, 724);
svg.append("rect").attr("x", 101.5).attr("y", 575).attr("width", 13.5).attr("height", 17).attr("fill", "#0000ff");
svg.append("rect").attr("x", 89).attr("y", 575).attr("width", 649).attr("height", 17).attr("fill", "none").attr("stroke", "#444").attr("stroke-width", 0.8);
var tEbc2 = label("", 413, 558, 12.5, {anchor: "middle"});
span(tEbc2, "eBC", {italic: true}); span(tEbc2, " (\u00b5g m"); span(tEbc2, "-3", {shift: "super"}); span(tEbc2, ")");

// ---- panel d ----
var yN = d3.scaleLog().domain([10, 10000]).range([749, 605]);
var yO = d3.scaleLinear().domain([0, 10]).range([749, 605]);
var logMinor = [];
[10, 100, 1000].forEach(function(b) { d3.range(2, 10).forEach(function(k) { logMinor.push(b * k); }); });
vgrid(605, 749);
hgrid(yN, logMinor, "#efefef", 0.6);
hgrid(yN, ntotTicks, "#d0d0d0", 0.9);

var hg = svg.append("g");
nHac.forEach(function(s) {
  var pts = expand(s);
  hg.append("g").selectAll("line").data(pts.slice(1)).join("line")
    .attr("x1", function(p, i) { return xd(pts[i].d); }).attr("y1", function(p, i) { return yN(pts[i].v); })
    .attr("x2", function(p) { return xd(p.d); }).attr("y2", function(p) { return yN(p.v); })
    .attr("stroke", function(p, i) { return ebcColor(Math.max(p.c, pts[i].c) === 0.005 ? 0.005 : (p.c + pts[i].c) / 2, 0.20); })
    .attr("stroke-width", function(p, i) { return Math.max(p.c, pts[i].c) === 0.005 ? 1.6 : 2.3; })
    .attr("stroke-linecap", "round");
});
var nLine = d3.line().x(function(p) { return xd(p.d); }).y(function(p) { return yN(p.v); });
svg.append("g").selectAll("path").data(nVl).join("path")
  .attr("d", function(s) { return nLine(expand(s)); })
  .attr("fill", "none").attr("stroke", "#000").attr("stroke-width", 2.2).attr("stroke-linejoin", "round");

var soPts = [];
so4.forEach(function(s) { soPts = soPts.concat(expand(s)); });
svg.append("g").selectAll("circle").data(soPts).join("circle")
  .attr("cx", function(p) { return xd(p.d); }).attr("cy", function(p) { return yO(p.v); }).attr("r", 3.3)
  .attr("fill", "#1f7a1f").attr("stroke", "#0b330b").attr("stroke-width", 0.6);

frame(605, 749);
styleAxis(svg.append("g").attr("transform", "translate(" + X0 + ",0)")
  .call(d3.axisLeft(yN).tickValues(ntotTicks).tickSize(4).tickPadding(3).tickFormat(d3.format("d"))));
styleAxis(svg.append("g").attr("transform", "translate(" + X0 + ",0)")
  .call(d3.axisLeft(yN).tickValues(logMinor).tickSize(2).tickFormat("")));
styleAxis(svg.append("g").attr("transform", "translate(" + X1 + ",0)")
  .call(d3.axisLeft(yN).tickValues(logMinor).tickSize(2).tickFormat("")));
styleAxis(svg.append("g").attr("transform", "translate(" + X1 + ",0)")
  .call(d3.axisLeft(yN).tickValues(ntotTicks).tickSize(4).tickFormat("")));
styleAxis(svg.append("g").attr("transform", "translate(762,0)")
  .call(d3.axisRight(yO).tickValues(so4Ticks).tickSize(4).tickPadding(4)));
styleAxis(svg.append("g").attr("transform", "translate(762,0)")
  .call(d3.axisRight(yO).tickValues([1, 3, 5, 7, 9]).tickSize(2).tickFormat("")));
svg.append("line").attr("x1", 762).attr("x2", 762).attr("y1", 605).attr("y2", 749).attr("stroke", "#333");

var tNt = label("", 53, 677, 13, {anchor: "middle", rot: -90});
span(tNt, "N", {italic: true}); span(tNt, "Total", {italic: true, shift: "sub"}); span(tNt, " (cm"); span(tNt, "-3", {shift: "super"}); span(tNt, ")");
var tSo = label("", 796, 677, 13, {anchor: "middle", rot: -90});
so4Text(tSo, 13); span(tSo, " (\u00b5g m"); span(tSo, "-3", {shift: "super"}); span(tSo, ")");
label("d)", 10, 750, 17);

// legends d
svg.append("rect").attr("x", 637).attr("y", 612).attr("width", 94).attr("height", 46).attr("fill", "#fff").attr("stroke", "#555").attr("stroke-width", 0.8);
var tLg = label("", 640, 624, 11.5);
span(tLg, "N", {italic: true}); span(tLg, "Total", {italic: true, shift: "sub"}); span(tLg, " sampled at:");
svg.append("line").attr("x1", 639).attr("x2", 667).attr("y1", 635).attr("y2", 635).attr("stroke", "#ff0000").attr("stroke-width", 2.4);
var tLh = label("", 668, 640, 12); span(tLh, "(HAC)"); span(tLh, "2", {shift: "super"});
svg.append("line").attr("x1", 662).attr("x2", 687).attr("y1", 650).attr("y2", 650).attr("stroke", "#000").attr("stroke-width", 2.4);
label("VL", 690, 655, 12);
svg.append("rect").attr("x", 672).attr("y", 718).attr("width", 56).attr("height", 18).attr("fill", "#fff").attr("stroke", "#555").attr("stroke-width", 0.8);
svg.append("circle").attr("cx", 686).attr("cy", 727).attr("r", 3.3).attr("fill", "#1f7a1f").attr("stroke", "#0b330b").attr("stroke-width", 0.6);
so4Text(label("", 703, 731, 12.5), 12.5);

// ---- panel e ----
var yD = d3.scaleLinear().domain([0, 500]).range([917, 774]);
vgrid(774, 917);
hgrid(yD, [50, 150, 250, 350, 450], "#ececec", 0.7);
hgrid(yD, ndTicks.slice(1, 5), "#cfcfcf", 1.6);
svg.append("g").selectAll("circle").data(droplets).join("circle")
  .attr("cx", function(d) { return xd(d[0]); }).attr("cy", function(d) { return yD(d[1]); }).attr("r", 4.2)
  .attr("fill", function(d) { return deffColor(d[2]); }).attr("fill-opacity", 0.9)
  .attr("stroke", "#3a3a3a").attr("stroke-width", 0.6);
frame(774, 917, true);
styleAxis(svg.append("g").attr("transform", "translate(" + X0 + ",0)")
  .call(d3.axisLeft(yD).tickValues(ndTicks).tickSize(4).tickPadding(3)));
styleAxis(svg.append("g").attr("transform", "translate(" + X0 + ",0)")
  .call(d3.axisLeft(yD).tickValues([50, 150, 250, 350, 450]).tickSize(2).tickFormat("")));
styleAxis(svg.append("g").attr("transform", "translate(" + X1 + ",0)")
  .call(d3.axisLeft(yD).tickValues(d3.range(0, 501, 50)).tickSize(3).tickFormat("")));
svg.append("line").attr("x1", X0).attr("x2", X1).attr("y1", 917).attr("y2", 917).attr("stroke", "#333").attr("stroke-width", 1.6);

var tNd = label("", 55, 845, 13, {anchor: "middle", rot: -90});
span(tNd, "N", {italic: true}); span(tNd, "d", {italic: true, shift: "sub"}); span(tNd, " (cm"); span(tNd, "-3", {shift: "super"}); span(tNd, ")");
label("Date", 413, 982, 13, {anchor: "middle"});
label("e)", 10, 960, 17);

// D_eff colour bar
var yC = d3.scaleLinear().domain([0, deffLabels.length - 1]).range([915, 786]);
svg.append("rect").attr("x", 761).attr("y", 783).attr("width", 17).attr("height", 135).attr("fill", "#d0d0d0");
svg.append("rect").attr("x", 761).attr("y", 786).attr("width", 17).attr("height", 129).attr("fill", "url(#gDeff)");
svg.append("rect").attr("x", 761).attr("y", 783).attr("width", 17).attr("height", 135).attr("fill", "none").attr("stroke", "#555").attr("stroke-width", 0.7);
var gc = svg.append("g");
gc.selectAll("line").data(deffLabels).join("line")
  .attr("x1", 778).attr("x2", 782).attr("y1", function(d, i) { return yC(i); }).attr("y2", function(d, i) { return yC(i); })
  .attr("stroke", "#555").attr("stroke-width", 0.7);
gc.selectAll("text").data(deffLabels).join("text")
  .attr("x", 784).attr("y", function(d, i) { return yC(i) + 2.5; }).attr("font-size", 7.5).attr("fill", "#444")
  .text(function(d) { return d; });
var tDe = label("", 757, 773, 12.5);
span(tDe, "D", {italic: true}); span(tDe, "eff", {italic: true, shift: "sub"}); span(tDe, " (\u00b5m)");
</script>
</body>
</html>
